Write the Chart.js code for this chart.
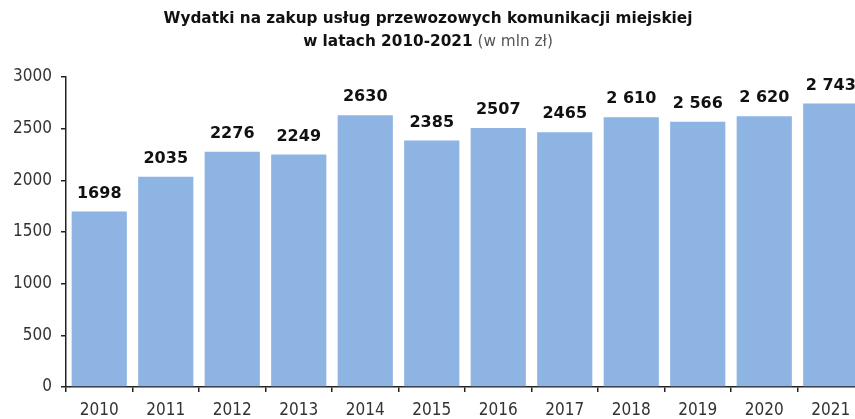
<!DOCTYPE html>
<html>
<head>
<meta charset="utf-8">
<script src="https://cdn.jsdelivr.net/npm/chart.js@4"></script>
<style>
  body { margin: 0; background: #fff; overflow: hidden; }
  #wrap { width: 870px; height: 419px; }
</style>
</head>
<body>
<div id="wrap"><canvas id="myChart"></canvas></div>
<script>
    // dane wykresu
    const years = ['2010', '2011', '2012', '2013', '2014', '2015', '2016', '2017', '2018', '2019', '2020', '2021'];
    const values = [1698, 2035, 2276, 2249, 2630, 2385, 2507, 2465, 2610, 2566, 2620, 2743];
    const valueLabels = ['1698', '2035', '2276', '2249', '2630', '2385', '2507', '2465', '2 610', '2 566', '2 620', '2 743'];
    const yTicks = [0, 500, 1000, 1500, 2000, 2500, 3000];

    const titleLine1 = 'Wydatki na zakup usług przewozowych komunikacji miejskiej';
    const titleLine2a = 'w latach 2010-2021';
    const titleLine2b = ' (w mln zł)';

    const tickFont = { family: 'DejaVu Sans Condensed', size: 17 };

    // tytul (dwie czcionki w jednej linii)
    const titlePlugin = {
      id: 'twoLineTitle',
      afterDraw(chart) {
        const ctx = chart.ctx;
        const cx = 428;
        ctx.save();
        ctx.textBaseline = 'middle';
        ctx.fillStyle = '#111';
        ctx.font = 'bold 15.3px "DejaVu Sans"';
        ctx.textAlign = 'center';
        ctx.fillText(titleLine1, cx, 19);

        const wa = ctx.measureText(titleLine2a).width;
        ctx.font = '15.3px "DejaVu Sans"';
        const wb = ctx.measureText(titleLine2b).width;
        const start = cx - (wa + wb) / 2;
        ctx.textAlign = 'left';
        ctx.font = 'bold 15.3px "DejaVu Sans"';
        ctx.fillText(titleLine2a, start, 42);
        ctx.font = '15.3px "DejaVu Sans"';
        ctx.fillStyle = '#555';
        ctx.fillText(titleLine2b, start + wa, 42);
        ctx.restore();
      }
    };

    // etykiety nad slupkami
    const valuePlugin = {
      id: 'valueLabels',
      afterDatasetsDraw(chart) {
        const ctx = chart.ctx;
        const meta = chart.getDatasetMeta(0);
        ctx.save();
        ctx.font = 'bold 16px "DejaVu Sans"';
        ctx.fillStyle = '#111';
        ctx.textAlign = 'center';
        ctx.textBaseline = 'middle';
        meta.data.forEach((bar, i) => {
          ctx.fillText(valueLabels[i], bar.x, bar.y - 18);
        });
        ctx.restore();
      }
    };

    const data = {
      labels: years,
      datasets: [{
        data: values,
        backgroundColor: '#8db4e2',
        borderWidth: 0,
        barPercentage: 0.83,
        categoryPercentage: 1.0,
      }]
    };

    const config = {
      type: 'bar',
      data: data,
      options: {
        responsive: true,
        maintainAspectRatio: false,
        animation: false,
        layout: { padding: { top: 77, right: 6, left: 0, bottom: 0 } },
        plugins: {
          legend: { display: false },
          tooltip: { enabled: false },
        },
        scales: {
          x: {
            grid: { offset: true, drawOnChartArea: false, drawTicks: true, tickLength: 5, color: '#222', lineWidth: 1.5 },
            border: { display: true, color: '#222', width: 1.5 },
            ticks: { color: '#333', font: tickFont, padding: 8, maxRotation: 0 },
            afterFit(scale) { scale.height = 32; }
          },
          y: {
            min: 0,
            max: 3000,
            afterBuildTicks(scale) { scale.ticks = yTicks.map(v => ({ value: v })); },
            grid: { drawOnChartArea: false, drawTicks: true, tickLength: 5, color: '#222', lineWidth: 1.5 },
            border: { display: true, color: '#222', width: 1.5 },
            ticks: { color: '#333', font: tickFont, padding: 9, callback: v => String(v) },
            afterFit(scale) { scale.width = 66; }
          }
        }
      },
      plugins: [titlePlugin, valuePlugin]
    };

    const myChart = new Chart(document.getElementById('myChart'), config);
</script>
</body>
</html>
